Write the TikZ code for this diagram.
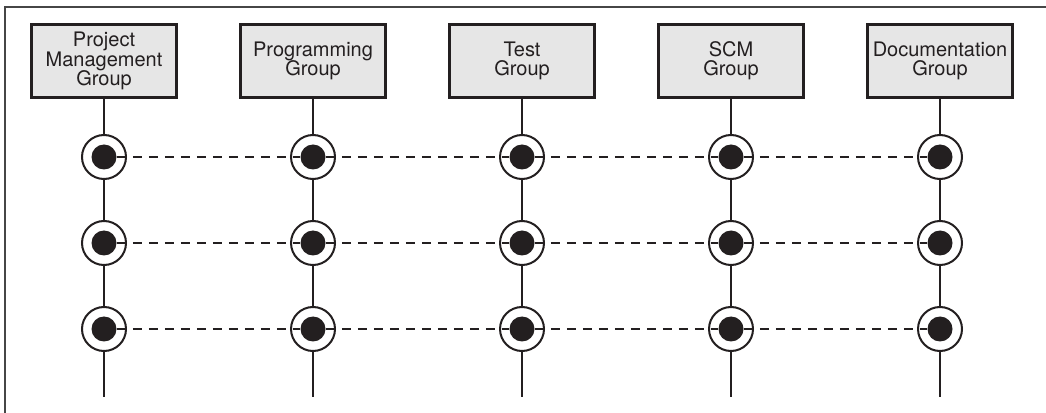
\documentclass[tikz,border=0pt]{standalone}
\usepackage{fontspec}
\setmainfont{TeX Gyre Heros}
\usepackage{tikz}
\usetikzlibrary{positioning}
\definecolor{InkGray}{RGB}{35,31,32}
\definecolor{BoxFill}{RGB}{230,230,230}
\definecolor{FrameGray}{RGB}{70,70,70}

\begin{document}
\begin{tikzpicture}[
x=0.75pt,y=-0.75pt,
node distance=45.75pt,
grp/.style={draw=InkGray,fill=BoxFill,line width=2pt,minimum width=109pt,minimum height=55pt,inner xsep=1pt,text=InkGray,font=\fontsize{15}{14.5}\selectfont,align=center},
ring/.style={circle,draw=InkGray,fill=white,line width=1.5pt,minimum size=33pt,inner sep=0pt},
dot/.style={circle,fill=InkGray,minimum size=18.75pt,inner sep=0pt},
stem/.style={draw=InkGray,line width=1.5pt},
link/.style={draw=InkGray,line width=1.5pt,dash pattern=on 6.75pt off 5.25pt}
]
\useasboundingbox (0,0) rectangle (1046,413);
\draw[FrameGray,line width=1.5pt] (1046,7) -- (5,7) -- (5,413);

\node[grp] (pm) at (104,61) {Project\\Management\\Group};
\node[grp,right=of pm] (prog) {Programming\\Group};
\node[grp,right=of prog] (test) {Test\\Group};
\node[grp,right=of test] (scm) {SCM\\Group};
\node[grp,right=of scm] (doc) {Documentation\\Group};

\coordinate (row1) at (0,157);
\coordinate (row2) at (0,243);
\coordinate (row3) at (0,329);
\coordinate (foot) at (0,397);

% one lifeline per group
\foreach \g in {pm,prog,test,scm,doc}{
  \foreach \r in {1,2,3}{
    \node[ring] (\g-r\r) at (\g |- row\r) {};
    \node[dot] (\g-d\r) at (\g-r\r) {};
  }
  \coordinate (\g-end) at (\g |- foot);
  \draw[stem] (\g) -- (\g-r1);
  \draw[stem] (\g-r1) -- (\g-r2);
  \draw[stem] (\g-r2) -- (\g-r3);
  \draw[stem] (\g-r3) -- (\g-end);
}

\foreach \r in {1,2,3}
  \foreach \a/\b in {pm/prog,prog/test,test/scm,scm/doc}
    \draw[link] (\a-d\r) -- (\b-d\r);
\end{tikzpicture}
\end{document}
